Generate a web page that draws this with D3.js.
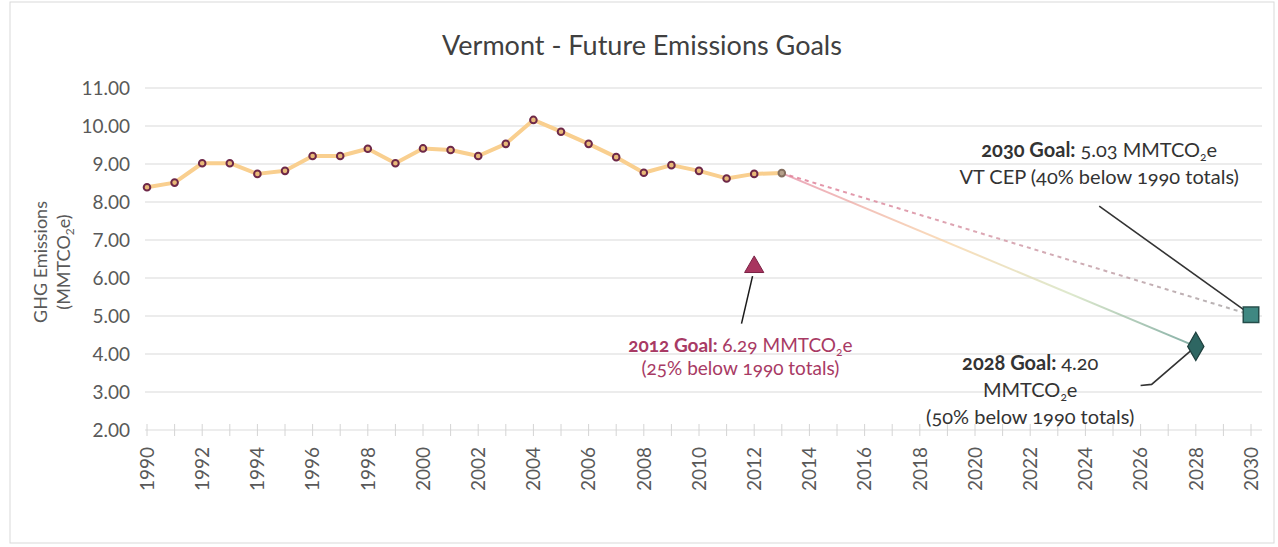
<!DOCTYPE html>
<html>
<head>
<meta charset="utf-8">
<script src="https://cdn.jsdelivr.net/npm/d3@7"></script>
<style>
    body { margin: 0; background: #fff; }
    text { font-family: Lato, "Open Sans", sans-serif; }
    .annot { font-variant-numeric: oldstyle-nums; }
</style>
</head>
<body>
<script>
// Vermont GHG emissions (MMTCO2e)
var years = [1990, 1991, 1992, 1993, 1994, 1995, 1996, 1997, 1998, 1999, 2000, 2001,
             2002, 2003, 2004, 2005, 2006, 2007, 2008, 2009, 2010, 2011, 2012, 2013];
var emissions = [8.39, 8.51, 9.02, 9.02, 8.74, 8.82, 9.21, 9.21, 9.40, 9.02, 9.41, 9.37,
                 9.21, 9.53, 10.16, 9.85, 9.53, 9.18, 8.77, 8.97, 8.82, 8.62, 8.74, 8.76];

// goals
var goalYears = [2012, 2028, 2030];
var goalValues = [6.29, 4.20, 5.03];

var yTicks = [2, 3, 4, 5, 6, 7, 8, 9, 10, 11];
var xLabelYears = d3.range(1990, 2031, 2);
var xTickYears = d3.range(1990, 2031, 1);

var width = 1278, height = 547;

var svg = d3.select("body").append("svg")
    .attr("width", width)
    .attr("height", height);

// chart frame
svg.append("rect")
    .attr("x", 10).attr("y", 2)
    .attr("width", 1264).attr("height", 541)
    .attr("fill", "#fff")
    .attr("stroke", "#d9d9d9");

var x = d3.scaleLinear().domain([1990, 2030]).range([147, 1251]);
var y = d3.scaleLinear().domain([2, 11]).range([430, 88]);

// gradients for projection lines
var defs = svg.append("defs");
var gSolid = defs.append("linearGradient")
    .attr("id", "solidGrad")
    .attr("gradientUnits", "userSpaceOnUse")
    .attr("x1", x(2013)).attr("y1", y(8.76))
    .attr("x2", x(2028)).attr("y2", y(4.20));
gSolid.append("stop").attr("offset", "0%").attr("stop-color", "#e58aa3");
gSolid.append("stop").attr("offset", "40%").attr("stop-color", "#f9d3a4");
gSolid.append("stop").attr("offset", "70%").attr("stop-color", "#d3e2bd");
gSolid.append("stop").attr("offset", "100%").attr("stop-color", "#5c9488");

var gDash = defs.append("linearGradient")
    .attr("id", "dashGrad")
    .attr("gradientUnits", "userSpaceOnUse")
    .attr("x1", x(2013)).attr("y1", y(8.76))
    .attr("x2", x(2030)).attr("y2", y(5.03));
gDash.append("stop").attr("offset", "0%").attr("stop-color", "#e27f98");
gDash.append("stop").attr("offset", "45%").attr("stop-color", "#d69aa8");
gDash.append("stop").attr("offset", "100%").attr("stop-color", "#a8a8a8");

// title
svg.append("text")
    .attr("x", 642)
    .attr("y", 55)
    .attr("text-anchor", "middle")
    .attr("fill", "#404040")
    .style("font-size", "27px")
    .text("Vermont - Future Emissions Goals");

// gridlines
svg.append("g")
    .selectAll("line")
    .data(yTicks.slice(1))
    .enter()
    .append("line")
    .attr("x1", 145).attr("x2", 1262)
    .attr("y1", function(d) { return y(d); })
    .attr("y2", function(d) { return y(d); })
    .attr("stroke", "#d9d9d9")
    .attr("stroke-width", 1.2);

// x axis line and tick marks
svg.append("line")
    .attr("x1", 145).attr("x2", 1262)
    .attr("y1", y(2)).attr("y2", y(2))
    .attr("stroke", "#dcdcdc")
    .attr("stroke-width", 1.2);

svg.append("g")
    .selectAll("line")
    .data(xTickYears)
    .enter()
    .append("line")
    .attr("x1", function(d) { return x(d); })
    .attr("x2", function(d) { return x(d); })
    .attr("y1", y(2) - 6).attr("y2", y(2) + 6)
    .attr("stroke", "#d4d4d4");

// y tick labels
svg.append("g")
    .selectAll("text")
    .data(yTicks)
    .enter()
    .append("text")
    .attr("x", 130)
    .attr("y", function(d) { return y(d); })
    .attr("dy", "0.36em")
    .attr("text-anchor", "end")
    .attr("fill", "#595959")
    .style("font-size", "19px")
    .text(function(d) { return d.toFixed(2); });

// x tick labels
svg.append("g")
    .selectAll("text")
    .data(xLabelYears)
    .enter()
    .append("text")
    .attr("transform", function(d) { return "translate(" + x(d) + "," + (y(2) + 17) + ") rotate(-90)"; })
    .attr("dy", "0.36em")
    .attr("text-anchor", "end")
    .attr("fill", "#595959")
    .style("font-size", "19px")
    .text(function(d) { return d; });

// y axis title
var yTitle = svg.append("text")
    .attr("transform", "translate(41,262) rotate(-90)")
    .attr("text-anchor", "middle")
    .attr("fill", "#595959")
    .style("font-size", "18px");
yTitle.append("tspan").attr("x", 0).attr("dy", "0.36em").text("GHG Emissions");
yTitle.append("tspan").attr("x", 0).attr("dy", "1.25em").text("(MMTCO");
yTitle.append("tspan").attr("dy", "4").style("font-size", "12px").text("2");
yTitle.append("tspan").attr("dy", "-4").text("e)");

// projection lines from last data point
var last = years.length - 1;
svg.append("line")
    .attr("x1", x(years[last])).attr("y1", y(emissions[last]))
    .attr("x2", x(goalYears[1])).attr("y2", y(goalValues[1]))
    .attr("stroke", "url(#solidGrad)")
    .attr("stroke-width", 2)
    .attr("opacity", 0.75);

svg.append("line")
    .attr("x1", x(years[last])).attr("y1", y(emissions[last]))
    .attr("x2", x(goalYears[2])).attr("y2", y(goalValues[2]))
    .attr("stroke", "url(#dashGrad)")
    .attr("stroke-width", 2)
    .attr("stroke-dasharray", "4,4")
    .attr("opacity", 0.85);

// emissions line
var line = d3.line()
    .x(function(d, i) { return x(years[i]); })
    .y(function(d) { return y(d); });

svg.append("path")
    .datum(emissions)
    .attr("d", line)
    .attr("fill", "none")
    .attr("stroke", "#f9cf8f")
    .attr("stroke-width", 4)
    .attr("stroke-linejoin", "round");

svg.append("g")
    .selectAll("circle")
    .data(emissions)
    .enter()
    .append("circle")
    .attr("cx", function(d, i) { return x(years[i]); })
    .attr("cy", function(d) { return y(d); })
    .attr("r", 3.3)
    .attr("fill", function(d, i) { return i == last ? "#b5a08a" : "#e8b878"; })
    .attr("stroke", function(d, i) { return i == last ? "#857060" : "#6e2848"; })
    .attr("stroke-width", 2);

// leader lines
svg.append("line")
    .attr("x1", x(2011.54)).attr("y1", y(4.8))
    .attr("x2", x(2011.94)).attr("y2", y(6.05))
    .attr("stroke", "#1a1a1a")
    .attr("stroke-width", 1.5);

svg.append("line")
    .attr("x1", x(2024.5)).attr("y1", y(7.89))
    .attr("x2", x(2030)).attr("y2", y(5.03))
    .attr("stroke", "#333")
    .attr("stroke-width", 1.6);

svg.append("polyline")
    .attr("points", [[x(2026.0), y(3.17)], [x(2026.4), y(3.2)], [x(2028), y(4.20)]].join(" "))
    .attr("fill", "none")
    .attr("stroke", "#333")
    .attr("stroke-width", 1.6);

// goal markers
svg.append("path")
    .attr("d", d3.symbol().type(d3.symbolTriangle).size(160)())
    .attr("transform", "translate(" + x(goalYears[0]) + "," + y(goalValues[0]) + ")")
    .attr("fill", "#a8355f")
    .attr("stroke", "#7a2245")
    .attr("stroke-width", 1);

svg.append("path")
    .attr("d", d3.symbol().type(d3.symbolDiamond).size(230)())
    .attr("transform", "translate(" + x(goalYears[1]) + "," + y(goalValues[1]) + ")")
    .attr("fill", "#2e6662")
    .attr("stroke", "#1e3f3d")
    .attr("stroke-width", 1.2);

svg.append("path")
    .attr("d", d3.symbol().type(d3.symbolSquare).size(240)())
    .attr("transform", "translate(" + x(goalYears[2]) + "," + y(goalValues[2]) + ")")
    .attr("fill", "#3f8882")
    .attr("stroke", "#244d4a")
    .attr("stroke-width", 1.5);

// annotation helper: parts = [[text, bold, sub]]
function annot(cx, cy, parts, color, size) {
    var t = svg.append("text")
        .attr("class", "annot")
        .attr("x", cx)
        .attr("y", cy)
        .attr("dy", "0.36em")
        .attr("text-anchor", "middle")
        .attr("fill", color)
        .style("font-size", size + "px");
    parts.forEach(function(p) {
        var s = t.append("tspan").text(p[0]);
        if (p[1]) s.style("font-weight", "bold");
        if (p[2]) s.attr("dy", p[2]).style("font-size", p[2] > 0 ? Math.round(size * 0.62) + "px" : null);
    });
    return t;
}

var pink = "#a83a64", dark = "#333333";

annot(x(2011.5), y(4.24), [["2012 Goal: ", true], ["6.29 MMTCO"], ["2", false, 4], ["e", false, -4]], pink, 19);
annot(x(2011.5), y(3.63), [["(25% below 1990 totals)"]], pink, 19);

annot(x(2024.5), y(9.37), [["2030 Goal: ", true], ["5.03 MMTCO"], ["2", false, 4], ["e", false, -4]], dark, 20);
annot(x(2024.5), y(8.66), [["VT CEP (40% below 1990 totals)"]], dark, 20);

annot(x(2022.0), y(3.76), [["2028 Goal: ", true], ["4.20"]], dark, 20);
annot(x(2022.0), y(3.05), [["MMTCO"], ["2", false, 4], ["e", false, -4]], dark, 20);
annot(x(2022.0), y(2.34), [["(50% below 1990 totals)"]], dark, 20);
</script>
</body>
</html>
